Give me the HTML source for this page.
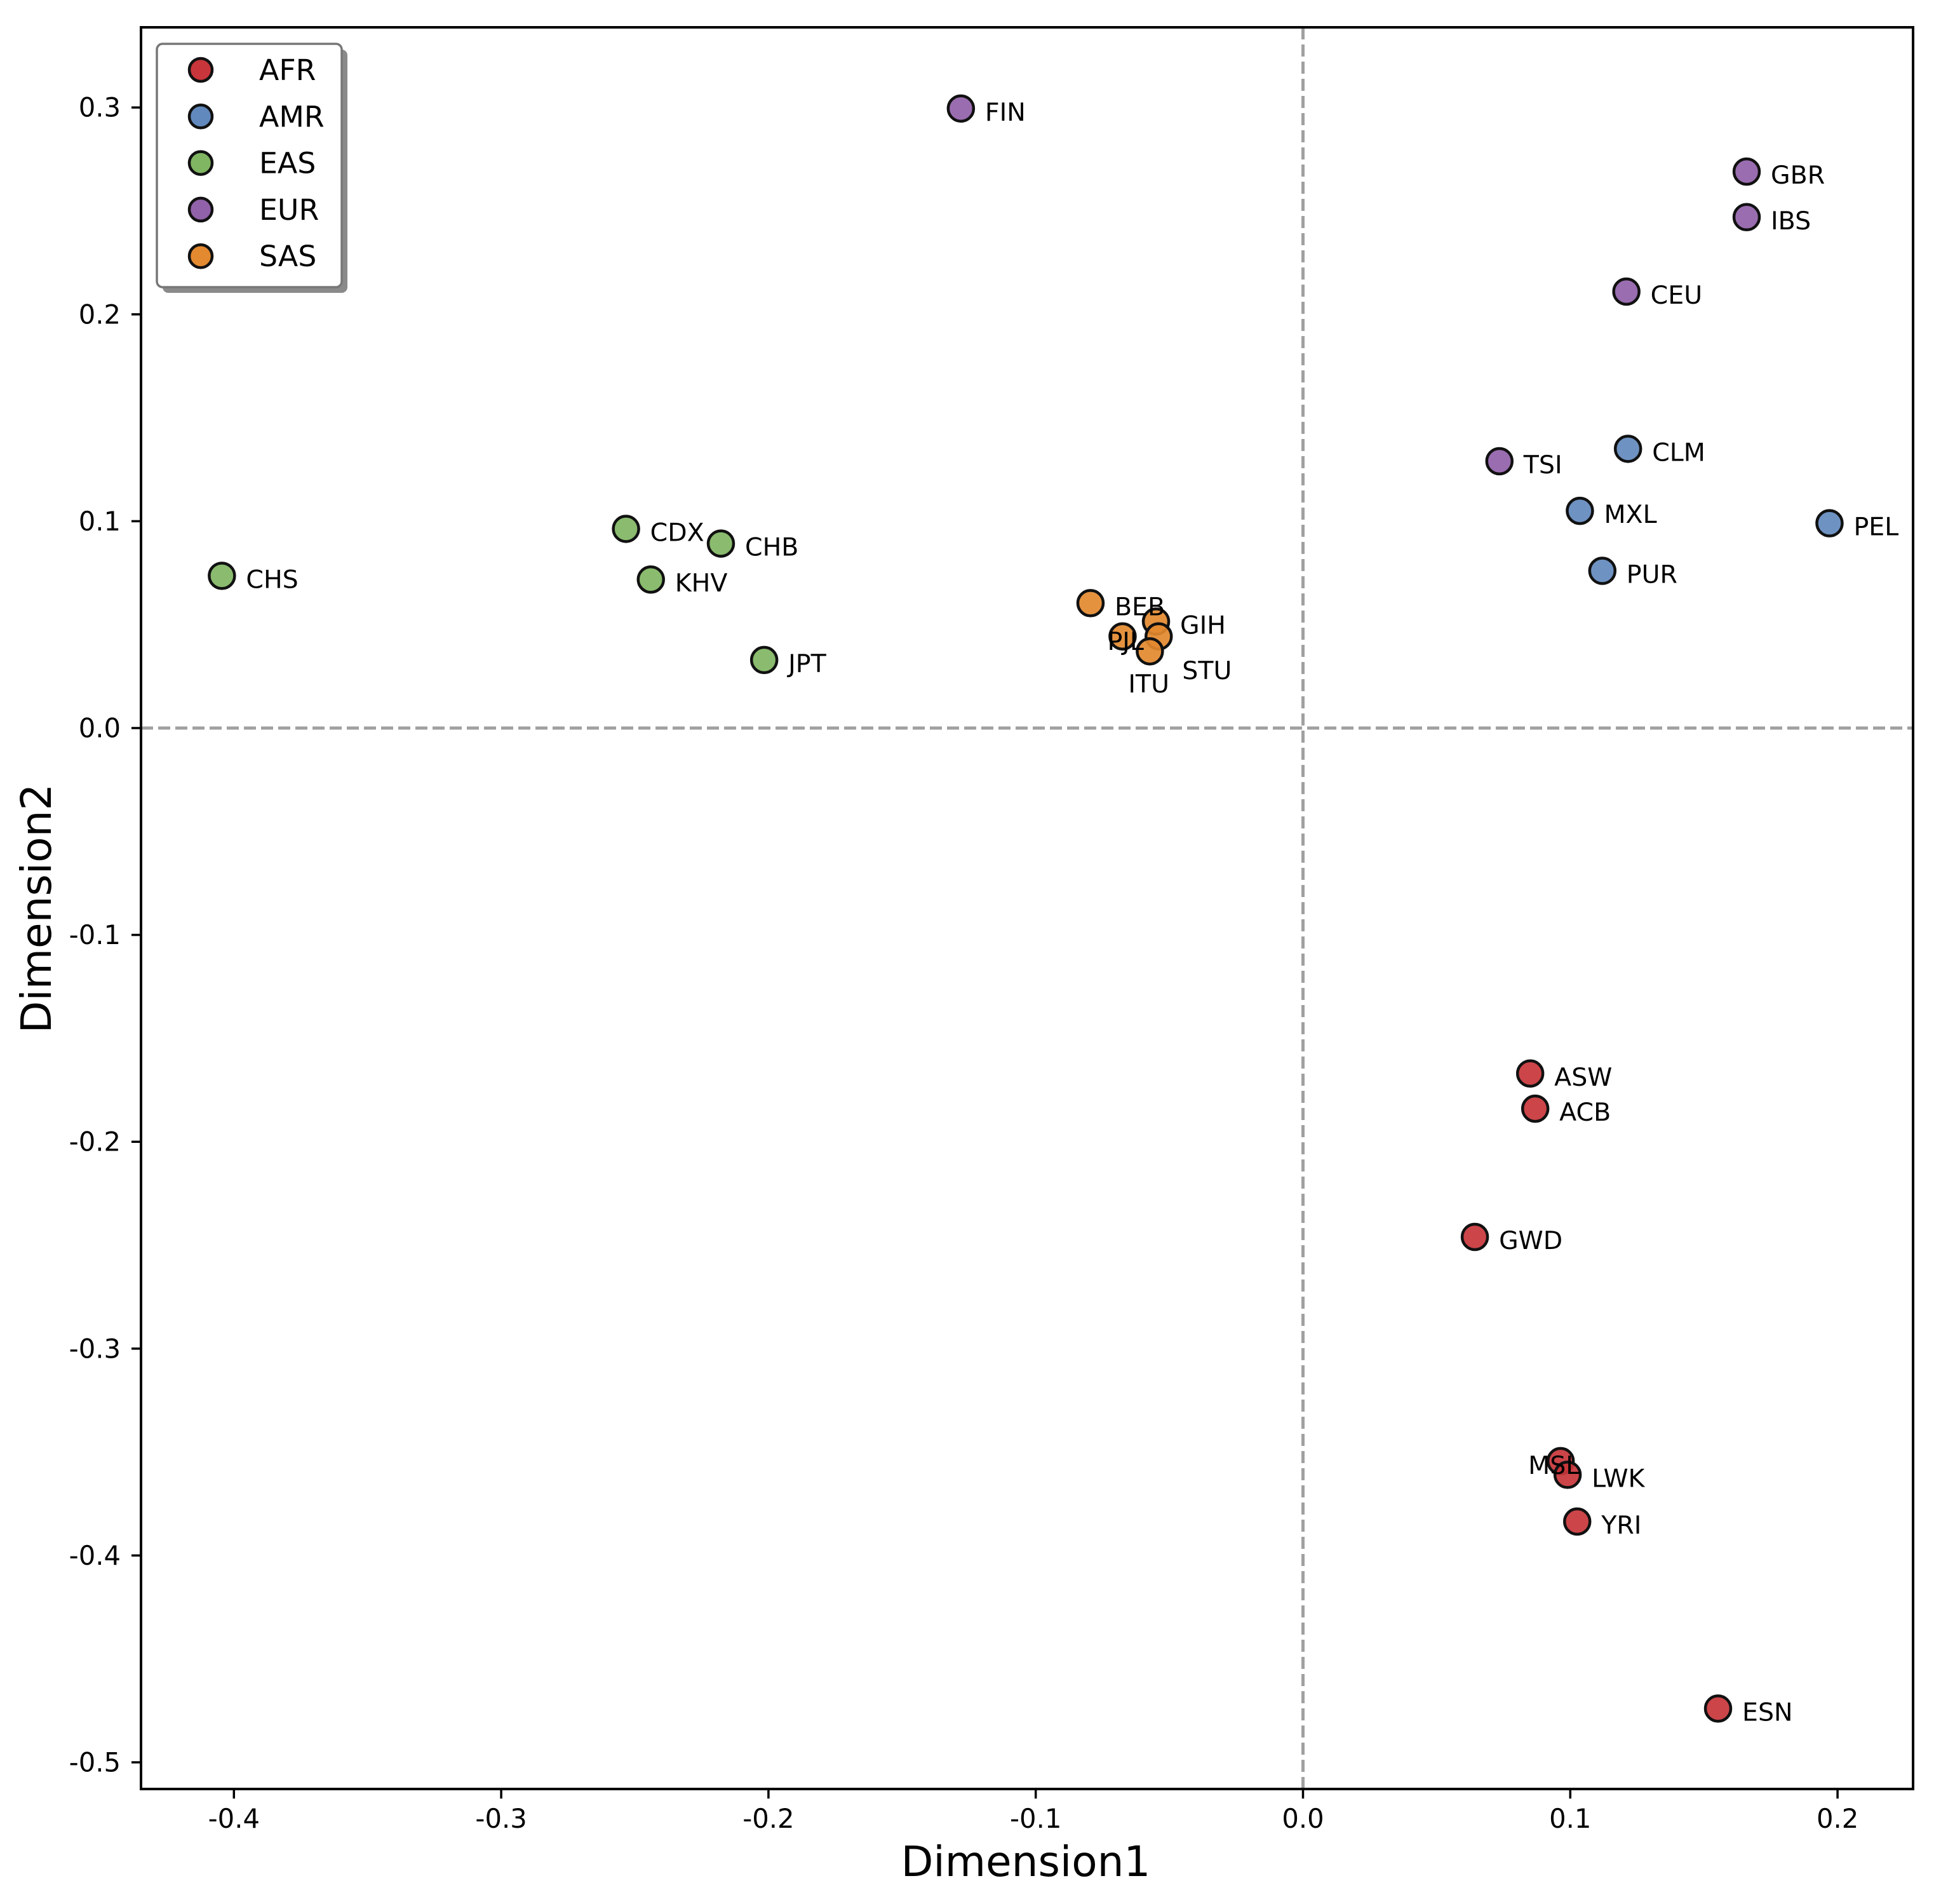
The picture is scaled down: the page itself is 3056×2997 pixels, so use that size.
<!DOCTYPE html>
<html><head><meta charset="utf-8">
<style>
html,body{margin:0;padding:0;background:#fff;}
svg{display:block;font-family:"DejaVu Sans","Liberation Sans",sans-serif;}
</style></head>
<body>
<svg id="chart" width="3056" height="2997" viewBox="0 0 3056 2997" xmlns="http://www.w3.org/2000/svg">
<rect x="0" y="0" width="3056" height="2997" fill="#fff"/>
<g id="grid"></g>
<g id="points"></g>
<g id="axes"></g>
<g id="legend"></g>
<text x="1615" y="2953" font-size="66" text-anchor="middle">Dimension1</text>
<text x="80" y="1430" font-size="66" text-anchor="middle" transform="rotate(-90 80 1430)">Dimension2</text>
</svg>
<script>
const names = ["FIN","GBR","IBS","CEU","TSI","CLM","MXL","PEL","PUR","CHS","CDX","CHB","KHV","JPT","BEB","PJL","GIH","STU","ITU","ASW","ACB","GWD","MSL","LWK","YRI","ESN"];
const groups = ["EUR","EUR","EUR","EUR","EUR","AMR","AMR","AMR","AMR","EAS","EAS","EAS","EAS","EAS","SAS","SAS","SAS","SAS","SAS","AFR","AFR","AFR","AFR","AFR","AFR","AFR"];
const dim1 = [-0.128,0.166,0.166,0.121,0.0735,0.1216,0.1036,0.197,0.112,-0.4045,-0.2533,-0.2178,-0.244,-0.2016,-0.0795,-0.0675,-0.055,-0.054,-0.0573,0.085,0.0869,0.0643,0.0964,0.099,0.1026,0.1553];
const dim2 = [0.2995,0.269,0.247,0.211,0.129,0.135,0.105,0.099,0.076,0.0736,0.0963,0.0892,0.0718,0.0329,0.0604,0.0443,0.0515,0.0443,0.0371,-0.167,-0.184,-0.246,-0.3544,-0.361,-0.3836,-0.474];
const legendGroups = ["AFR","AMR","EAS","EUR","SAS"];
const xTicks = [-0.4,-0.3,-0.2,-0.1,0.0,0.1,0.2];
const yTicks = [0.3,0.2,0.1,0.0,-0.1,-0.2,-0.3,-0.4,-0.5];
const xTickLabels = ["-0.4","-0.3","-0.2","-0.1","0.0","0.1","0.2"];
const yTickLabels = ["0.3","0.2","0.1","0.0","-0.1","-0.2","-0.3","-0.4","-0.5"];

const colors = {AFR:"#c8353a",AMR:"#6289bd",EAS:"#80b562",EUR:"#9161a9",SAS:"#e3892f"};
const NS = "http://www.w3.org/2000/svg";
const L=222,R=3012,T=43,B=2816;
function xs(v){return 2051.5+v*4208;}
function ys(v){return 1146-v*3256;}
function mk(tag,attrs,parent){const e=document.createElementNS(NS,tag);for(const k in attrs)e.setAttribute(k,attrs[k]);parent.appendChild(e);return e;}
const labelOff = {PJL:[-24,8],STU:[37,54],ITU:[-34,52],MSL:[-51,7]};

const grid=document.getElementById('grid');
let l1=mk('line',{x1:L,x2:R,y1:ys(0),y2:ys(0),stroke:'#a0a0a0','stroke-width':5,'stroke-dasharray':'19,8'},grid);


let l2=mk('line',{x1:xs(0),x2:xs(0),y1:T,y2:B,stroke:'#a0a0a0','stroke-width':5,'stroke-dasharray':'19,8'},grid);



const pts=document.getElementById('points');
names.forEach((n,i)=>{
  const cx=xs(dim1[i]),cy=ys(dim2[i]);
  const c=mk('circle',{cx:cx,cy:cy,r:20,fill:colors[groups[i]],'fill-opacity':0.92,stroke:'#111','stroke-width':4.5},pts);
  
  
});
names.forEach((n,i)=>{
  const cx=xs(dim1[i]),cy=ys(dim2[i]);
  const o=labelOff[n]||[38,6];
  const t=mk('text',{x:cx+o[0],y:cy+o[1],'font-size':39.5,'dominant-baseline':'central'},pts);
  t.textContent=n;
  
  
});

const ax=document.getElementById('axes');
const frame=mk('rect',{x:L,y:T,width:R-L,height:B-T,fill:'none',stroke:'#000','stroke-width':4},ax);


xTicks.forEach((v,i)=>{
  const x=xs(v);
  const tk=mk('line',{x1:x,x2:x,y1:B,y2:B+15,stroke:'#000','stroke-width':3.5},ax);
  
  
  const t=mk('text',{x:x,y:2877,'font-size':41.7,'text-anchor':'middle'},ax);
  t.textContent=xTickLabels[i];
  
  
});
yTicks.forEach((v,i)=>{
  const y=ys(v);
  const tk=mk('line',{x1:L-15,x2:L,y1:y,y2:y,stroke:'#000','stroke-width':3.5},ax);
  
  
  const t=mk('text',{x:190,y:y,'font-size':41.7,'text-anchor':'end','dominant-baseline':'central'},ax);
  t.textContent=yTickLabels[i];
  
  
});

const lg=document.getElementById('legend');
const sh=mk('rect',{x:256,y:78,width:291,height:383,rx:9,fill:'#8a8a8a'},lg);


const bx=mk('rect',{x:247,y:69,width:291,height:383,rx:9,fill:'#fff',stroke:'#777','stroke-width':3.5},lg);


legendGroups.forEach((g,i)=>{
  const y=110+i*73.3;
  const c=mk('circle',{cx:316,cy:y,r:18,fill:colors[g],stroke:'#111','stroke-width':4.5},lg);
  
  
  const t=mk('text',{x:408,y:y,'font-size':45.8,'dominant-baseline':'central'},lg);
  t.textContent=g;
  
  
});
</script>
</body></html>
